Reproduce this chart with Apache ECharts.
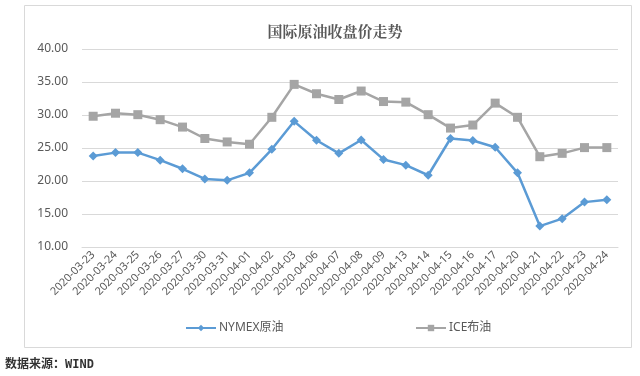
<!DOCTYPE html>
<html>
<head>
<meta charset="utf-8">
<script src="https://cdn.jsdelivr.net/npm/echarts@6/dist/echarts.min.js"></script>
<style>
  html, body { margin: 0; padding: 0; background: #fff; }
  #chart { width: 640px; height: 376px; }
</style>
</head>
<body>
<div id="chart"></div>
<script>
// trading days
const dates = [
  '2020-03-23', '2020-03-24', '2020-03-25', '2020-03-26', '2020-03-27', '2020-03-30',
  '2020-03-31', '2020-04-01', '2020-04-02', '2020-04-03', '2020-04-06', '2020-04-07',
  '2020-04-08', '2020-04-09', '2020-04-13', '2020-04-14', '2020-04-15', '2020-04-16',
  '2020-04-17', '2020-04-20', '2020-04-21', '2020-04-22', '2020-04-23', '2020-04-24'
]
// closing prices
const nymex = [
  23.78, 24.30, 24.30, 23.16, 21.85, 20.32, 20.10, 21.24, 24.80, 29.04, 26.18, 24.19,
  26.22, 23.27, 22.40, 20.87, 26.44, 26.13, 25.11, 21.24, 13.17, 14.29, 16.80, 17.15
]
const ice = [
  29.81, 30.27, 30.05, 29.29, 28.17, 26.44, 25.92, 25.57, 29.65, 34.64, 33.22, 32.35,
  33.63, 32.04, 31.95, 30.05, 28.02, 28.48, 31.80, 29.65, 23.68, 24.19, 25.06, 25.06
]

const chart = echarts.init(document.getElementById('chart'))
const textColor = '#595959'
const font = '"Noto Sans", "Noto Sans CJK SC", sans-serif'

chart.setOption({
  animation: false,
  title: {
    text: '国际原油收盘价走势',
    left: 330,
    textAlign: 'center',
    top: 19,
    textStyle: {
      fontSize: 15,
      fontWeight: 'bold',
      color: textColor,
      fontFamily: '"Noto Serif CJK SC", "Noto Sans CJK SC", serif'
    }
  },
  graphic: [
    {
      type: 'rect',
      shape: { x: 24.5, y: 5.5, width: 607, height: 342 },
      style: { fill: 'none', stroke: '#d9d9d9', lineWidth: 1 },
      silent: true
    },
    {
      type: 'text',
      left: 5,
      top: 359,
      style: {
        text: '数据来源：WIND',
        fontSize: 12,
        fontWeight: 'bold',
        fill: '#333',
        fontFamily: '"DejaVu Sans Mono", "Noto Sans CJK SC", monospace'
      }
    }
  ],
  legend: [
    {
      data: ['NYMEX原油'],
      left: 180,
      top: 317,
      itemWidth: 30,
      itemHeight: 8,
      itemGap: 4,
      textStyle: { color: textColor, fontSize: 12, fontFamily: font, padding: [0, 0, 0, -2] }
    },
    {
      data: ['ICE布油'],
      left: 410,
      top: 317,
      itemWidth: 30,
      itemHeight: 8,
      textStyle: { color: textColor, fontSize: 12, fontFamily: font, padding: [0, 0, 0, -2] }
    }
  ],
  grid: {
    left: 82,
    right: 22,
    top: 49,
    bottom: 129
  },
  xAxis: {
    type: 'category',
    data: dates,
    boundaryGap: true,
    axisLine: { lineStyle: { color: '#d9d9d9' } },
    axisTick: { show: false },
    axisLabel: {
      interval: 0,
      rotate: 45,
      fontSize: 11,
      color: textColor,
      margin: 6,
      fontFamily: font
    }
  },
  yAxis: {
    type: 'value',
    min: 10,
    max: 40,
    interval: 5,
    axisLine: { show: false },
    axisTick: { show: false },
    splitLine: { lineStyle: { color: '#d9d9d9' } },
    axisLabel: {
      color: textColor,
      fontSize: 12,
      margin: 14,
      fontFamily: font,
      formatter: v => v.toFixed(2)
    }
  },
  series: [
    {
      name: 'NYMEX原油',
      type: 'line',
      data: nymex,
      symbol: 'diamond',
      symbolSize: 9,
      lineStyle: { color: '#5b9bd5', width: 2.5 },
      itemStyle: { color: '#5b9bd5' }
    },
    {
      name: 'ICE布油',
      type: 'line',
      data: ice,
      symbol: 'rect',
      symbolSize: 9,
      lineStyle: { color: '#a5a5a5', width: 2.5 },
      itemStyle: { color: '#a5a5a5' }
    }
  ]
})
</script>
</body>
</html>
